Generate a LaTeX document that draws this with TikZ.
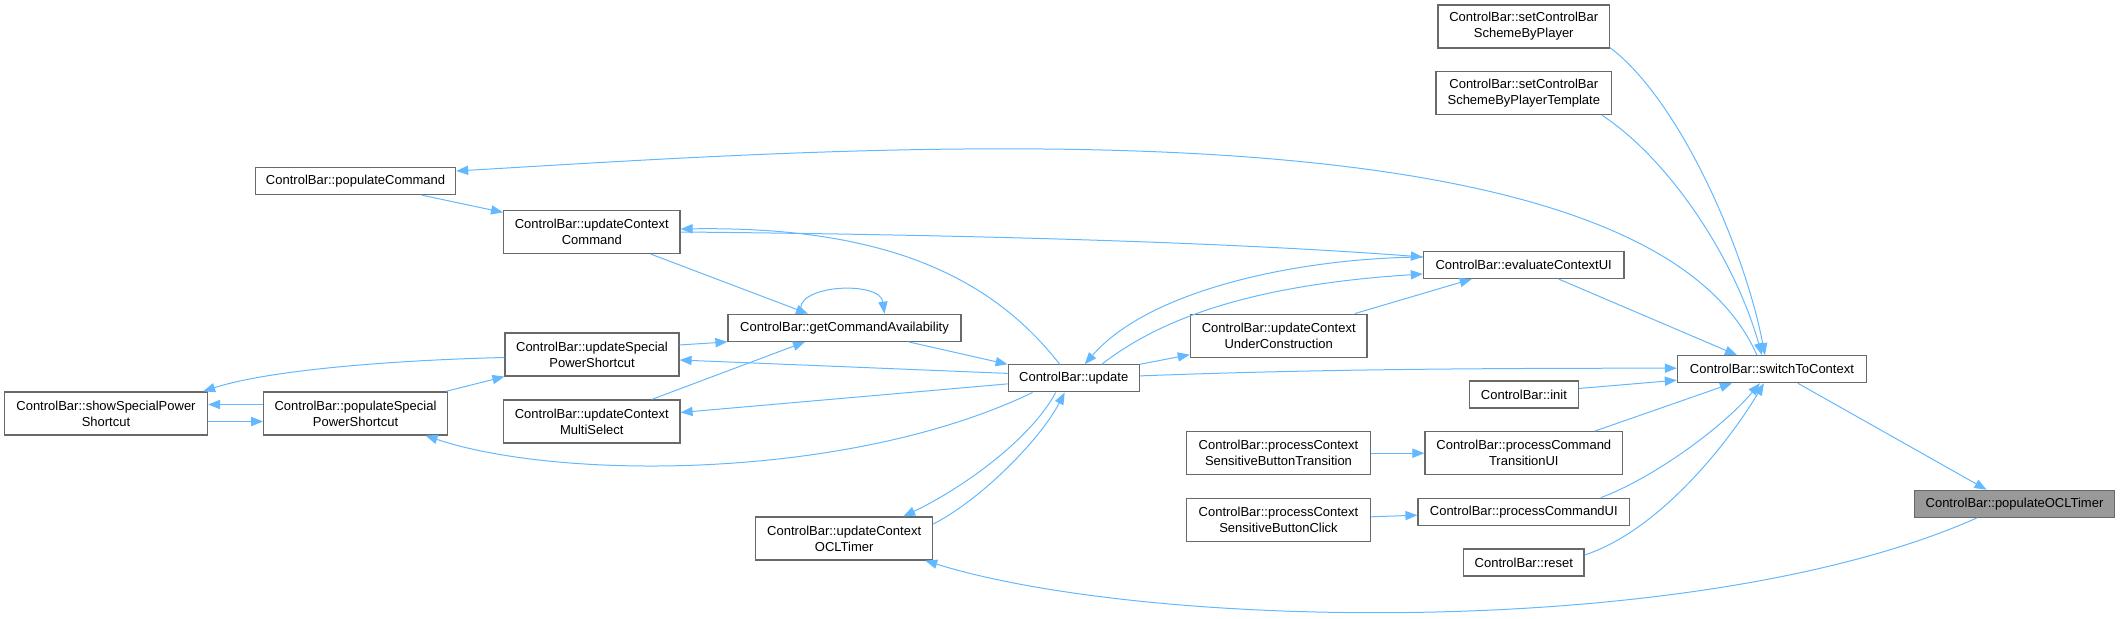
\documentclass[tikz,border=0pt]{standalone}
\usepackage{fontspec}
\setmainfont{Liberation Sans}
\usetikzlibrary{arrows.meta,calc}
\definecolor{dxedge}{RGB}{99,184,255}
\definecolor{dxline}{RGB}{105,105,105}
\definecolor{dxcur}{RGB}{153,153,153}
\tikzset{
  fn/.style={draw=dxline, fill=white, line width=0.6pt, inner sep=0pt, align=center,
    font=\fontsize{6.5}{8}\selectfont, minimum height=13.5pt},
  fn2/.style={fn, minimum height=21.5pt},
  fcur/.style={fn, fill=dxcur},
  call/.style={-{Triangle[length=6pt,width=4.6pt]}, dxedge, line width=0.5pt},
}

\begin{document}
\begin{tikzpicture}[x=0.5pt, y=-0.5pt]
  \useasboundingbox (0,0) rectangle (2120,619);
  % left part
  \node[fn2, minimum width=101.5pt] (showSP) at (106,413.5) {ControlBar::showSpecialPower\\Shortcut};
  \node[fn2, minimum width=91.75pt] (popSP) at (355.5,413.5) {ControlBar::populateSpecial\\PowerShortcut};
  \node[fn, minimum width=100pt] (popCmd) at (355.6,181) {ControlBar::populateCommand};
  \node[fn2, minimum width=88.2pt] (updCmd) at (591.8,232) {ControlBar::updateContext\\Command};
  \node[fn2, minimum width=87pt] (updSP) at (592,354.5) {ControlBar::updateSpecial\\PowerShortcut};
  \node[fn2, minimum width=88.2pt] (updMS) at (591.8,421.5) {ControlBar::updateContext\\MultiSelect};
  \node[fn2, minimum width=88.5pt] (updOCL) at (844.2,538.5) {ControlBar::updateContext\\OCLTimer};
  \node[fn, minimum width=116.5pt] (getCA) at (844.5,327.8) {ControlBar::getCommandAvailability};
  \node[fn, minimum width=65.5pt] (upd) at (1073.7,378.4) {ControlBar::update};
  % middle column
  \node[fn2, minimum width=88.35pt] (updUC) at (1278.7,335.7) {ControlBar::updateContext\\UnderConstruction};
  \node[fn2, minimum width=92pt] (pcsbT) at (1278.5,453.2) {ControlBar::processContext\\SensitiveButtonTransition};
  \node[fn2, minimum width=92pt] (pcsbC) at (1278.5,519.8) {ControlBar::processContext\\SensitiveButtonClick};
  % right part
  \node[fn2, minimum width=85.7pt] (setSBP) at (1523.7,26.5) {ControlBar::setControlBar\\SchemeByPlayer};
  \node[fn2, minimum width=87.85pt] (setSBPT) at (1523.8,93.3) {ControlBar::setControlBar\\SchemeByPlayerTemplate};
  \node[fn, minimum width=100.3pt] (evalUI) at (1523.7,265) {ControlBar::evaluateContextUI};
  \node[fn, minimum width=54.4pt] (init) at (1523.9,394.5) {ControlBar::init};
  \node[fn2, minimum width=98.8pt] (pcTUI) at (1523.8,453.2) {ControlBar::processCommand\\TransitionUI};
  \node[fn, minimum width=105.8pt] (pcUI) at (1523.8,511.7) {ControlBar::processCommandUI};
  \node[fn, minimum width=60.25pt] (reset) at (1523.8,562.5) {ControlBar::reset};
  \node[fn, minimum width=94.5pt] (s2c) at (1771.9,369.2) {ControlBar::switchToContext};
  \node[fcur, minimum width=99.8pt] (popOCL) at (2014.5,503.8) {ControlBar::populateOCLTimer};

  % switchToContext and its callers
  \draw[call] ($(s2c.south)+(26,0)$) -- ($(popOCL.north)+(-28,0)$);
  \draw[call] ($(popOCL.south)+(-37.5,0)$) .. controls +(-277,123) and +(225,70) .. ($(updOCL.south)+(81,0)$);
  \draw[call] ($(setSBP.south east)+(0,-1)$) .. controls +(70,53) and +(-20,-105) .. ($(s2c.north)+(-7,0)$);
  \draw[call] ($(setSBPT.south east)+(-10,0)$) .. controls +(68,45) and +(-27,-96) .. ($(s2c.north)+(-10,0)$);
  \draw[call] ($(s2c.north)+(-15,0)$) .. controls +(-117,-266) and +(394,-23) .. ($(popCmd.east)+(0,-10)$);
  \draw[call] ($(evalUI.south)+(35,0)$) -- ($(s2c.north)+(-35,0)$);
  \draw[call] ($(upd.east)+(0,-2.5)$) .. controls +(160,-6) and +(-230,0) .. ($(s2c.west)+(0,-1)$);
  \draw[call] ($(init.east)+(0,-6)$) -- ($(s2c.west)+(0,11)$);
  \draw[call] ($(pcTUI.north)+(71,0)$) -- ($(s2c.south)+(-40,0)$);
  \draw[call] ($(pcUI.north)+(77,0)$) .. controls +(49,-18) and +(-40,47) .. ($(s2c.south)+(-12,0)$);
  \draw[call] ($(reset.east)+(0,-7.5)$) .. controls +(76,-25) and +(-34,57) .. ($(s2c.south)+(-8,0)$);
  \draw[call] (pcsbT.east) -- (pcTUI.west);
  \draw[call] ($(pcsbC.east)+(0,-3)$) -- ($(pcUI.west)+(0,3.5)$);
  % evaluateContextUI and update
  \draw[call] ($(updUC.north)+(76,0)$) -- ($(evalUI.south)+(-52,0)$);
  \draw[call] (upd.north east) -- ($(updUC.west)+(0,19)$);
  \draw[call] ($(evalUI.west)+(0,-8)$) .. controls +(-123,1) and +(65,-75) .. ($(upd.north)+(11,0)$);
  \draw[call] ($(upd.north)+(28,0)$) .. controls +(58,-45) and +(-173,11) .. ($(evalUI.west)+(0,9)$);
  \draw[call] (updCmd.east) .. controls +(220,2) and +(-223,-17) .. ($(evalUI.west)+(0,-8)$);
  \draw[call] ($(upd.north)+(-14,0)$) .. controls +(-70,-90) and +(200,-3) .. ($(updCmd.east)+(0,-3)$);
  \draw[call] ($(getCA.south)+(64,0)$) -- (upd.north west);
  \draw[call] ($(upd.west)+(0,-5)$) -- ($(updSP.east)+(0,5.5)$);
  \draw[call] ($(upd.west)+(0,5.5)$) -- ($(updMS.east)+(0,-9)$);
  \draw[call] ($(upd.south west)+(25,0)$) .. controls +(-183,88) and +(134.5,45) .. ($(popSP.south)+(70,0)$);
  \draw[call] ($(upd.south)+(-18,0)$) .. controls +(-25.7,48) and +(57,-27) .. ($(updOCL.north)+(59,0)$);
  \draw[call] ($(updOCL.east)+(0,-14.5)$) .. controls +(47,-24) and +(-25,48) .. ($(upd.south)+(-9,0)$);
  % special power shortcut
  \draw[call] ($(updSP.west)+(0,3)$) .. controls +(-105,2.5) and +(67.5,-22) .. ($(showSP.north east)+(-5,0)$);
  \draw[call] ($(popSP.west)+(0,-9)$) -- ($(showSP.east)+(0,-9)$);
  \draw[call] ($(showSP.east)+(0,8)$) -- ($(popSP.west)+(0,8)$);
  \draw[call] ($(popSP.north east)+(-2,0)$) -- (updSP.south west);
  % command availability
  \draw[call] ($(popCmd.south)+(66,0)$) -- ($(updCmd.north west)+(0,2.5)$);
  \draw[call] ($(updCmd.south)+(59,0)$) -- ($(getCA.north)+(-36.5,0)$);
  \draw[call] ($(getCA.north)+(-43,0)$) .. controls +(-11.5,-29) and +(-4.5,-34) .. ($(getCA.north)+(40,0)$);
  \draw[call] ($(updSP.east)+(0,-9.5)$) -- (getCA.south west);
  \draw[call] ($(updMS.north)+(60,0)$) -- ($(getCA.south)+(-39.5,0)$);
\end{tikzpicture}
\end{document}
